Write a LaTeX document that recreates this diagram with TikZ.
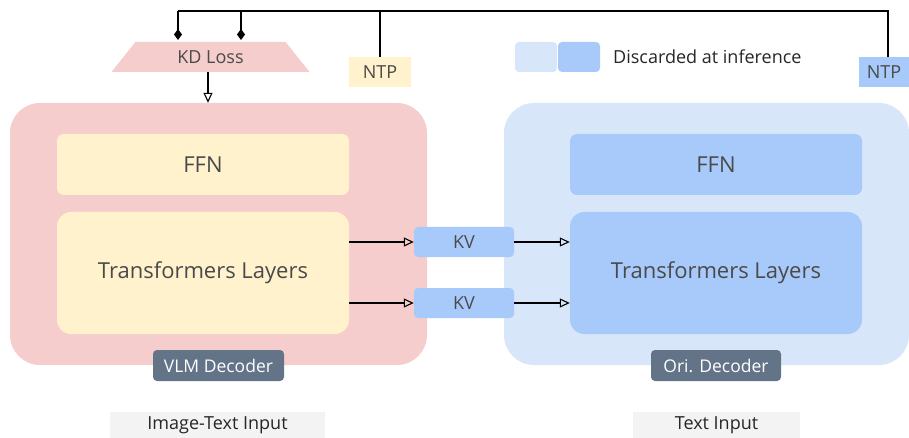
\documentclass[tikz,border=0pt]{standalone}
\usepackage{fontspec}
\setmainfont{Open Sans}
\usetikzlibrary{arrows.meta,shapes.geometric}
\definecolor{pinkbg}{HTML}{F6CDCD}
\definecolor{yel}{HTML}{FFF2CC}
\definecolor{lblue}{HTML}{D8E6FA}
\definecolor{mblue}{HTML}{A8CAFA}
\definecolor{slate}{HTML}{637388}
\definecolor{gbox}{HTML}{F3F3F3}
\definecolor{txt}{HTML}{4A4A4A}
\tikzset{
  box/.style={rounded corners=7pt, inner sep=0pt, text=txt},
  bigbox/.style={rounded corners=30pt, inner sep=0pt},
  tag/.style={fill=slate, rounded corners=4pt, inner sep=0pt, text=white, font=\fontsize{17.5}{20}\selectfont},
  inbox/.style={fill=gbox, inner sep=0pt, text=black!85, font=\fontsize{18}{20}\selectfont},
  bigfont/.style={font=\fontsize{22}{26}\selectfont},
  midfont/.style={font=\fontsize{18}{20}\selectfont},
  conn/.style={line width=1.1pt, draw=black},
  arr/.style={conn, -{Triangle[open,length=10pt,width=9pt]}},
  dia/.style={conn, -{Diamond[length=11pt,width=8pt]}},
}
\begin{document}
\begin{tikzpicture}[x=1pt,y=-1pt]
\useasboundingbox (0,0) rectangle (909,438);
% big containers
\node[bigbox, fill=pinkbg, minimum width=417pt, minimum height=262pt] (vlm) at (218.5,234) {};
\node[bigbox, fill=lblue, minimum width=405pt, minimum height=262pt] (ori) at (706.5,234) {};
% inner boxes
\node[box, fill=yel, minimum width=292pt, minimum height=61pt, bigfont] (ffnL) at (203,164.5) {FFN};
\node[box, fill=yel, rounded corners=14pt, minimum width=292pt, minimum height=122pt, bigfont] (trL) at (203,273) {Transformers Layers};
\node[box, fill=mblue, minimum width=292pt, minimum height=61pt, bigfont] (ffnR) at (716,164.5) {FFN};
\node[box, fill=mblue, rounded corners=14pt, minimum width=292pt, minimum height=122pt, bigfont] (trR) at (716,273) {Transformers Layers};
% KV
\node[box, fill=mblue, rounded corners=4pt, minimum width=100pt, minimum height=30pt, midfont] (kv1) at (464,242) {KV};
\node[box, fill=mblue, rounded corners=4pt, minimum width=100pt, minimum height=30pt, midfont] (kv2) at (464,303) {KV};
% tags
\node[tag, minimum width=131pt, minimum height=31pt] (vlmtag) at (218.5,365.5) {VLM Decoder};
\node[tag, minimum width=130pt, minimum height=31pt] (oritag) at (716,365.5) {Ori. Decoder};
% inputs
\node[inbox, minimum width=215pt, minimum height=27pt] (in1) at (217.5,425.5) {Image-Text Input};
\node[inbox, minimum width=167pt, minimum height=27pt] (in2) at (716.5,425.5) {Text Input};
% KD loss
\node[trapezium, trapezium stretches=true, trapezium angle=51, fill=pinkbg, inner sep=0pt, minimum width=199pt, minimum height=30pt, text=txt, midfont] (kd) at (210.5,57) {KD Loss};
% NTP
\node[fill=yel, inner sep=0pt, minimum width=62pt, minimum height=30pt, text=txt, midfont] (ntpL) at (380,72) {NTP};
\node[fill=mblue, inner sep=0pt, minimum width=51pt, minimum height=30pt, text=txt, midfont] (ntpR) at (884,72) {NTP};
% legend
\node[fill=lblue, rounded corners=4pt, minimum width=42pt, minimum height=30pt, inner sep=0pt] (lg1) at (536,57) {};
\node[fill=mblue, rounded corners=4pt, minimum width=42pt, minimum height=30pt, inner sep=0pt] (lg2) at (579,57) {};
\node[anchor=west, inner sep=0pt, text=black!85, midfont] (lgt) at (613,57) {Discarded at inference};
% connectors
\coordinate (c1) at (178,11);
\coordinate (c2) at (241,11);
\coordinate (c3) at (380,11);
\coordinate (c4) at (888,11);
\coordinate (d1) at (178,40);
\coordinate (d2) at (241,40);
\draw[conn] (ntpR.north -| c4) -- (c4) -- (c1);
\draw[dia] (c1) -- (d1);
\draw[dia] (c2) -- (d2);
\draw[conn] (ntpL.north) -- (c3);
\draw[arr] (kd.south -| 208,0) -- (vlm.north -| 208,0);
\draw[arr] (ffnL.east |- kv1) -- (kv1.west);
\draw[arr] (ffnL.east |- kv2) -- (kv2.west);
\draw[arr] (kv1.east) -- (trR.west |- kv1);
\draw[arr] (kv2.east) -- (trR.west |- kv2);
\end{tikzpicture}
\end{document}
